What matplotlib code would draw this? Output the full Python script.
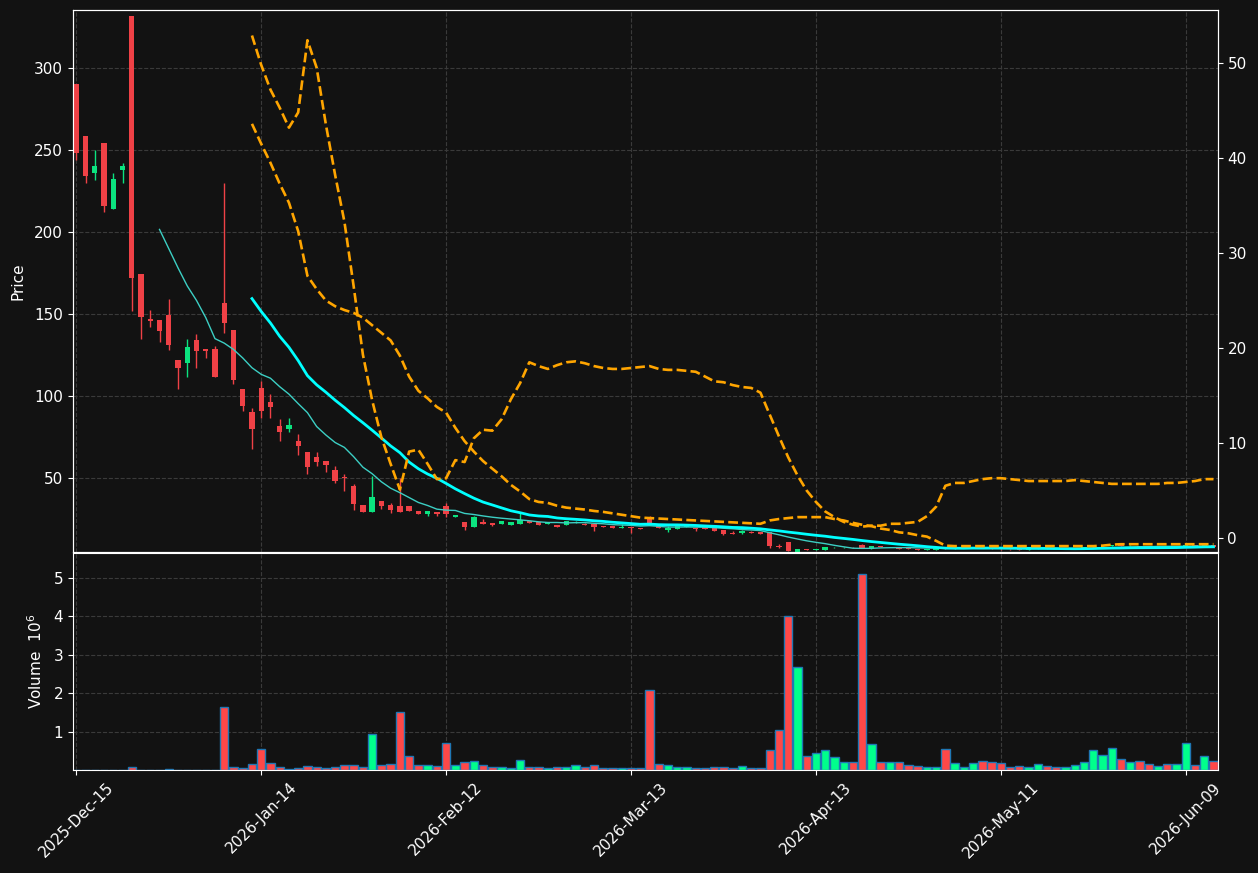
import matplotlib
matplotlib.use("Agg")
import matplotlib.pyplot as plt
import numpy as np
import pandas as pd

# trading calendar (NYSE holidays in range)
holidays = ["2025-12-25", "2026-01-01", "2026-01-19", "2026-02-16", "2026-04-03", "2026-05-25"]
dates = pd.bdate_range("2025-12-15", periods=124, freq="C", holidays=holidays)

opens = [290.2, 258.5, 236.2, 254.3, 214.0, 237.8, 332.0, 174.4, 147.0, 146.3,
         149.4, 122.0, 120.3, 134.1, 128.7, 128.7, 156.7, 140.2, 104.3, 90.2,
         104.9, 96.3, 81.7, 80.1, 72.6, 65.9, 63.0, 60.4, 54.9, 51.0,
         45.1, 33.5, 29.5, 36.2, 33.7, 32.9, 32.9, 29.9, 28.2, 29.3,
         32.9, 26.4, 23.2, 20.3, 23.2, 22.6, 22.0, 21.8, 22.0, 24.0,
         23.2, 22.0, 21.8, 21.3, 23.2, 22.1, 22.2, 20.9, 20.9, 19.9,
         20.3, 19.7, 26.2, 20.7, 18.5, 19.1, 20.5, 19.5, 20.3, 19.5,
         18.3, 16.7, 16.7, 17.1, 17.1, 17.1, 8.9, 11.0, 5.1, 6.7,
         6.5, 6.3, 7.4, 7.5, 7.8, 9.3, 7.0, 8.6, 8.0, 7.5,
         7.2, 6.8, 6.4, 6.4, 7.8, 7.0, 7.3, 7.4, 7.9, 7.4,
         7.0, 6.8, 6.7, 6.4, 6.7, 7.3, 7.0, 6.8, 7.1, 7.5,
         7.9, 8.5, 8.7, 9.2, 8.6, 8.9, 8.4, 8.1, 8.3, 8.0,
         8.2, 9.2, 8.8, 9.2]
highs = [290.2, 258.5, 250.4, 254.3, 236.4, 242.5, 332.0, 174.4, 152.4, 146.3,
         159.6, 122.0, 135.2, 137.8, 128.7, 130.7, 230.3, 140.2, 104.3, 93.1,
         109.3, 101.6, 86.4, 87.0, 77.2, 65.9, 66.3, 60.4, 57.7, 52.4,
         46.3, 33.5, 51.4, 36.2, 34.8, 50.4, 32.9, 29.9, 29.9, 29.3,
         34.8, 27.6, 23.2, 27.0, 25.0, 22.6, 24.0, 23.2, 29.0, 24.0,
         23.2, 23.4, 21.8, 23.8, 24.2, 22.5, 22.2, 20.9, 20.9, 22.0,
         20.3, 19.7, 27.0, 20.7, 21.0, 21.5, 21.7, 19.5, 20.3, 19.5,
         18.3, 17.9, 18.6, 17.9, 17.1, 17.1, 9.9, 11.0, 7.1, 6.9,
         7.0, 8.0, 7.9, 7.9, 8.0, 9.8, 8.6, 8.8, 8.4, 7.6,
         7.3, 6.9, 6.9, 7.9, 7.9, 7.6, 7.6, 8.0, 8.0, 7.5,
         7.1, 6.9, 6.8, 6.9, 7.4, 7.4, 7.1, 7.2, 7.6, 8.0,
         8.8, 9.0, 9.5, 9.3, 9.1, 9.0, 8.5, 8.4, 8.4, 8.3,
         9.5, 9.3, 9.6, 9.3]
lows = [244.0, 230.3, 231.9, 212.6, 214.0, 230.3, 152.0, 135.2, 142.5, 133.1,
        128.2, 104.7, 112.0, 117.5, 123.6, 111.8, 138.4, 107.7, 91.0, 68.1,
        87.0, 87.0, 72.7, 78.2, 64.2, 52.9, 57.7, 53.8, 47.4, 42.3,
        30.7, 29.5, 29.5, 31.5, 29.0, 29.5, 30.1, 28.2, 27.0, 27.0,
        26.4, 26.4, 18.5, 20.3, 22.0, 20.9, 22.0, 21.8, 22.0, 22.8,
        21.8, 22.0, 20.3, 21.3, 22.6, 21.8, 17.9, 20.3, 19.5, 19.9,
        16.9, 19.1, 22.6, 19.5, 17.5, 19.1, 20.0, 17.6, 19.1, 17.7,
        15.5, 16.0, 16.0, 16.7, 16.0, 7.7, 7.2, 5.7, 5.1, 6.4,
        6.3, 6.2, 7.2, 7.3, 7.4, 7.4, 6.9, 8.2, 7.9, 6.9,
        6.8, 6.4, 6.3, 6.3, 6.8, 6.9, 7.2, 7.3, 7.2, 6.9,
        6.5, 6.5, 6.3, 6.3, 6.6, 6.9, 6.7, 6.7, 7.0, 7.4,
        7.8, 8.3, 8.6, 8.6, 8.5, 8.3, 8.0, 8.0, 7.9, 7.9,
        8.1, 8.7, 8.7, 8.0]
closes = [248.2, 234.3, 240.2, 216.0, 232.3, 240.2, 172.1, 148.4, 145.9, 139.8,
          131.3, 117.1, 129.9, 127.6, 127.6, 111.8, 144.7, 109.9, 94.1, 80.1,
          91.0, 93.5, 78.2, 82.3, 69.7, 56.9, 59.8, 58.1, 48.4, 50.4,
          34.3, 29.5, 38.4, 33.1, 30.7, 29.5, 30.1, 28.2, 29.9, 28.2,
          28.2, 27.6, 20.3, 26.4, 22.0, 21.8, 24.0, 23.2, 24.8, 22.8,
          21.8, 23.4, 20.3, 23.8, 23.6, 21.8, 20.1, 20.3, 19.5, 20.5,
          19.7, 19.1, 22.6, 19.5, 19.7, 21.5, 20.9, 19.2, 19.1, 17.7,
          16.0, 16.0, 17.9, 16.7, 16.0, 8.7, 8.1, 5.7, 7.1, 6.5,
          6.9, 7.9, 7.6, 7.7, 7.5, 7.6, 8.5, 8.3, 8.3, 7.0,
          6.9, 6.5, 6.7, 7.8, 7.0, 7.4, 7.5, 7.9, 7.3, 7.0,
          6.6, 6.6, 6.4, 6.8, 7.3, 7.0, 6.8, 7.1, 7.5, 7.9,
          8.6, 8.8, 9.3, 8.7, 9.0, 8.4, 8.1, 8.3, 8.0, 8.2,
          9.3, 8.8, 9.4, 8.1]
# volume in millions
volumes = [0.0, 0.0, 0.0, 0.0, 0.0, 0.0, 0.075, 0.0, 0.0, 0.0,
           0.03, 0.0, 0.0, 0.0, 0.0, 0.0, 1.63, 0.07, 0.04, 0.15,
           0.54, 0.18, 0.075, 0.03, 0.04, 0.1, 0.075, 0.05, 0.075, 0.12,
           0.12, 0.075, 0.93, 0.12, 0.15, 1.5, 0.36, 0.12, 0.12, 0.1,
           0.70, 0.12, 0.2, 0.23, 0.12, 0.075, 0.075, 0.05, 0.26, 0.075,
           0.075, 0.04, 0.075, 0.075, 0.12, 0.075, 0.12, 0.04, 0.04, 0.04,
           0.04, 0.04, 2.07, 0.15, 0.12, 0.075, 0.075, 0.04, 0.04, 0.075,
           0.075, 0.04, 0.1, 0.04, 0.04, 0.51, 1.03, 4.01, 2.67, 0.36,
           0.44, 0.51, 0.33, 0.2, 0.2, 5.1, 0.67, 0.2, 0.2, 0.2,
           0.12, 0.1, 0.075, 0.075, 0.54, 0.18, 0.075, 0.18, 0.23, 0.2,
           0.18, 0.075, 0.1, 0.075, 0.15, 0.1, 0.075, 0.075, 0.12, 0.2,
           0.51, 0.39, 0.57, 0.28, 0.2, 0.23, 0.15, 0.1, 0.15, 0.15,
           0.70, 0.12, 0.36, 0.23]

# secondary-axis indicator lines, from bar 19 on
ind_start = 19
ind_a = [52.9, 49.8, 47.2, 45.3, 43.2, 44.8, 52.4, 49.5, 43.5, 38.2,
         33.3, 26.5, 19.3, 14.5, 10.6, 7.8, 5.1, 9.1, 9.3, 7.8,
         6.2, 6.3, 8.2, 8.0, 10.5, 11.4, 11.3, 12.5, 14.6, 16.3,
         18.5, 18.1, 17.8, 18.2, 18.5, 18.6, 18.4, 18.1, 17.9, 17.8,
         17.8, 17.9, 18.0, 18.1, 17.8, 17.7, 17.7, 17.6, 17.5, 17.0,
         16.5, 16.4, 16.1, 15.9, 15.8, 15.3, 13.0, 10.7, 8.5, 6.6,
         5.0, 3.8, 2.8, 2.2, 1.7, 1.4, 1.2, 1.3, 1.3, 1.5,
         1.5, 1.6, 1.7, 2.3, 3.3, 5.5, 5.8, 5.8, 6.0, 6.2,
         6.3, 6.3, 6.2, 6.1, 6.0, 6.0, 6.0, 6.0, 6.0, 6.1,
         6.0, 5.9, 5.8, 5.7, 5.7, 5.7, 5.7, 5.7, 5.7, 5.8,
         5.8, 5.9, 6.0, 6.2, 6.2]
ind_b = [43.6, 41.5, 39.5, 37.3, 35.3, 32.3, 27.6, 26.2, 25.0, 24.4,
         24.0, 23.7, 23.2, 22.4, 21.6, 20.8, 19.2, 17.0, 15.5, 14.7,
         13.8, 13.2, 11.6, 10.2, 9.1, 8.1, 7.3, 6.5, 5.6, 4.9,
         4.1, 3.8, 3.7, 3.4, 3.2, 3.1, 3.0, 2.85, 2.75, 2.6,
         2.45, 2.3, 2.15, 2.1, 2.05, 2.0, 1.95, 1.9, 1.85, 1.8,
         1.75, 1.7, 1.65, 1.6, 1.55, 1.5, 1.85, 2.0, 2.1, 2.2,
         2.2, 2.2, 2.2, 2.0, 1.85, 1.6, 1.4, 1.25, 1.0, 0.85,
         0.6, 0.5, 0.3, 0.15, -0.3, -0.8, -0.85, -0.85, -0.85, -0.85,
         -0.85, -0.85, -0.85, -0.85, -0.85, -0.85, -0.85, -0.85, -0.85, -0.85,
         -0.85, -0.85, -0.8, -0.7, -0.65, -0.65, -0.65, -0.65, -0.65, -0.65,
         -0.65, -0.65, -0.65, -0.65, -0.65]

BG = "#121212"
UP_C, DN_C = "#0be37f", "#ef4146"
UP_V, DN_V = "#00ff8c", "#ff4848"

plt.rcParams["font.family"] = "DejaVu Sans"
fig = plt.figure(figsize=(12.58, 8.73), dpi=100, facecolor=BG)
ax = fig.add_axes([0.058, 0.3677, 0.910, 0.6208])
axv = fig.add_axes([0.058, 0.118, 0.910, 0.2486], sharex=ax)
ax2 = ax.twinx()

x = np.arange(len(closes))
o = np.array(opens); h = np.array(highs); l = np.array(lows); c = np.array(closes)
up = c >= o
col = np.where(up, UP_C, DN_C)

for a in (ax, axv):
    a.set_facecolor(BG)
    a.grid(True, color="#3a3a3a", linestyle="--", linewidth=0.8)
    a.set_axisbelow(True)

ax.vlines(x, l, h, colors=col, linewidth=1.0, zorder=2)
body = np.maximum(np.abs(c - o), 0.25)
ax.bar(x, body, bottom=np.minimum(o, c), width=0.58, color=col, linewidth=0, zorder=3)

mav10 = pd.Series(closes).rolling(10).mean()
mav20 = pd.Series(closes).rolling(20).mean()
ax.plot(x, mav10, color="#3ccfc4", linewidth=1.0, zorder=4)
ax.plot(x, mav20, color="#00ffff", linewidth=2.0, zorder=4)

xi = np.arange(ind_start, ind_start + len(ind_a))
ax2.plot(xi, ind_a, color="#ffa500", linestyle="--", linewidth=1.9)
ax2.plot(xi, ind_b, color="#ffa500", linestyle="--", linewidth=1.9)

vcol = np.where(up, UP_V, DN_V)
axv.bar(x, volumes, width=0.9, color=vcol, edgecolor="#1f77b4", linewidth=1.0)

ax.set_xlim(-0.36, 123.46)
ax.set_ylim(5.06, 335.5)
ax2.set_ylim(-1.47, 55.58)
axv.set_ylim(0, 5.64)

ax.set_yticks([50, 100, 150, 200, 250, 300])
ax2.set_yticks([0, 10, 20, 30, 40, 50])
axv.set_yticks([1, 2, 3, 4, 5])

ticks = list(range(0, 124, 20))
axv.set_xticks(ticks)
axv.set_xticklabels([dates[t].strftime("%Y-%b-%d") for t in ticks], rotation=45, ha="center")
ax.tick_params(axis="x", labelbottom=False, length=0)

for a in (ax, ax2, axv):
    for s in a.spines.values():
        s.set_color("white")
    a.tick_params(colors="white", labelsize=11)

ax.set_ylabel("Price", color="white", fontsize=11, labelpad=6)
axv.set_ylabel("Volume  $10^{6}$", color="white", fontsize=11, labelpad=6)

fig.savefig("out.png", dpi=100, facecolor=BG)
